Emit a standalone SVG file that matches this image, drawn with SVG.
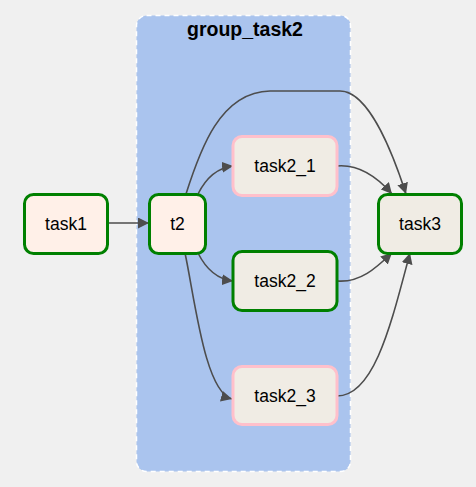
<svg xmlns="http://www.w3.org/2000/svg" width="476" height="487" viewBox="0 0 476 487">
<defs>
<marker id="ah" viewBox="0 0 10 10" refX="10" refY="5" markerWidth="11" markerHeight="11" markerUnits="userSpaceOnUse" orient="auto">
<path d="M0,0 L10,5 L0,10 z" fill="#4d4d4d"/>
</marker>
<style>
.node rect{stroke-width:3}
.ok{stroke:#008000}
.pend{stroke:#ffc0cb}
.t{font-family:"Liberation Sans",Arial,sans-serif;font-size:17.5px;fill:#000;text-anchor:middle;dominant-baseline:central}
.e{fill:none;stroke:#4d4d4d;stroke-width:1.6;marker-end:url(#ah)}
</style>
</defs>
<rect width="476" height="487" fill="#f0f0f0"/>
<g id="group_task2">
<rect x="136.5" y="15.5" width="214" height="456" rx="10" fill="#aac4ee" stroke="#ffffff" stroke-width="1.5" stroke-dasharray="5,4"/>
<text x="245" y="29" class="t" style="font-weight:bold;font-size:19.5px">group_task2</text>
</g>
<g id="edges">
<path class="e" d="M107,223 L149,223"/>
<path class="e" d="M198,194 C205,180 215,168 233,166"/>
<path class="e" d="M186,194 C200,150 220,92 270,91 L340,91 C370,91 395,160 406,194"/>
<path class="e" d="M198,253 C205,267 215,279 233,281"/>
<path class="e" d="M185,253 C195,300 205,392 232,399"/>
<path class="e" d="M337,166 C360,164 378,178 392,194"/>
<path class="e" d="M337,281 C360,283 376,268 392,253"/>
<path class="e" d="M337,396 C375,396 392,320 410,253"/>
</g>
<g id="task1" class="node">
<rect x="24.5" y="194.5" width="83" height="59" rx="9" fill="#fff0e8" class="ok"/>
<text x="66" y="224" class="t">task1</text>
</g>
<g id="t2" class="node">
<rect x="149.5" y="194.5" width="56" height="59" rx="9" fill="#fff0e8" class="ok"/>
<text x="177.5" y="224" class="t">t2</text>
</g>
<g id="task2_1" class="node">
<rect x="233" y="136.5" width="104" height="59" rx="9" fill="#f0ece4" class="pend"/>
<text x="285" y="166" class="t">task2_1</text>
</g>
<g id="task2_2" class="node">
<rect x="233" y="251.5" width="104" height="59" rx="9" fill="#f0ece4" class="ok"/>
<text x="285" y="281" class="t">task2_2</text>
</g>
<g id="task2_3" class="node">
<rect x="233" y="366.5" width="104" height="58" rx="9" fill="#f0ece4" class="pend"/>
<text x="285" y="396" class="t">task2_3</text>
</g>
<g id="task3" class="node">
<rect x="378.5" y="194.5" width="83" height="59" rx="9" fill="#f0ece4" class="ok"/>
<text x="420" y="224" class="t">task3</text>
</g>
</svg>
